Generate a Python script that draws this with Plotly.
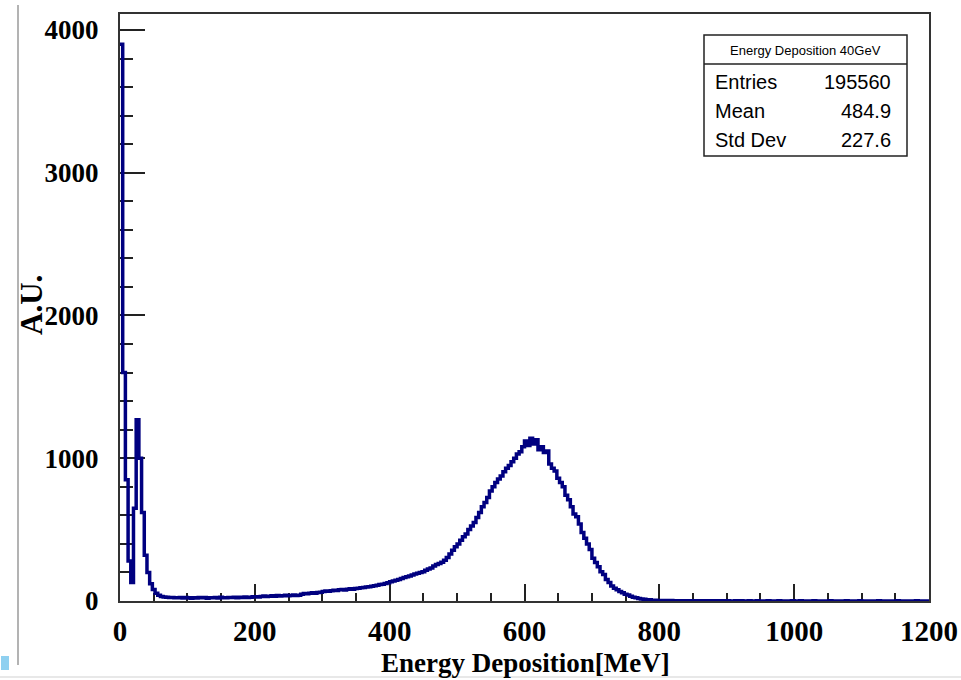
import numpy as np
import plotly.graph_objects as go

# ---------------- data (counts per 4 MeV bin, 0-1200 MeV) ----------------
bin_width_mev = 4
x_min, x_max = 0, 1200
y_max = 4112

counts_low = [3900, 1600, 850, 280, 130, 650, 1270, 1000, 620, 320, 200, 120, 80, 55, 40]
counts_flat = [32, 28, 26, 24, 25, 22, 23, 25, 21, 24, 22, 20, 23, 21, 24, 22, 25, 20, 23, 22,
               24, 21, 26, 23, 22, 25, 24, 27, 23, 26, 25, 28, 24, 27, 29]
counts_tail = [30, 28, 32, 35, 31, 33, 36, 34, 38, 35, 37, 40, 36, 39, 42, 38, 41,
               48, 52, 50, 55, 58, 54, 60, 62, 66, 70, 68, 72, 75, 73, 78, 80, 77, 82, 85, 83,
               88, 90, 93, 95, 98, 100, 104, 107, 110, 115, 118, 122, 128]
counts_rise = [135, 140, 146, 150, 158, 165, 170, 176, 183, 190, 195, 200, 205, 215, 225,
               232, 245, 255, 262, 272, 285, 305, 330, 355, 380,
               400, 425, 450, 470, 500, 525, 550, 585, 620, 660, 690, 725, 770, 800, 830,
               855, 875, 905, 930, 950, 975, 1000, 1030, 1045, 1080]
counts_peak = [1120, 1090, 1140, 1100, 1130, 1060, 1080, 1040, 1050, 960, 930, 910, 860, 830, 800,
               740, 710, 660, 610, 590, 540, 480, 440, 400, 360,
               300, 270, 240, 205, 185, 150, 130, 105, 90, 78, 66, 58, 48, 42, 34,
               26, 22, 18, 14, 12, 9, 8, 6, 5, 4]
counts_high = [4, 3, 3, 2, 3, 2, 2, 1, 2, 1, 2, 1, 1, 2, 1, 1, 0, 1, 1, 0,
               1, 1, 0, 1, 0, 1, 0, 0, 1, 0, 1, 0, 0, 1, 0, 0, 1, 0, 0, 0,
               1, 0, 0, 0, 1, 0, 0, 0, 0, 1, 0, 0, 1, 0, 0, 0, 0, 1, 0, 0,
               0, 0, 0, 1, 0, 0, 0, 0, 0, 1, 0, 0, 0, 0, 1, 0, 0, 0, 0, 0,
               0, 1, 0, 0, 0, 0, 0, 0, 1, 0, 0, 0, 0, 0, 0, 1, 0, 0, 0, 0]

counts = counts_low + counts_flat + counts_tail + counts_rise + counts_peak + counts_high

x_ticks = [0, 200, 400, 600, 800, 1000, 1200]
y_ticks = [0, 1000, 2000, 3000, 4000]

stats_title = "Energy Deposition 40GeV"
stats_names = ["Entries", "Mean", "Std Dev"]
stats_values = ["195560", "484.9", "227.6"]

x_title = "Energy Deposition[MeV]"
y_title = "A.U."

# ---------------- figure ----------------
edges = np.arange(len(counts) + 1) * bin_width_mev
xs = list(edges)
ys = counts + [counts[-1]]

W, H = 961, 680
L, R, T, B = 120, 32, 14, 79
pw, ph = W - L - R, H - T - B


def px(xp):
    return (xp - L) / pw


def py(yp):
    return (H - B - yp) / ph


fig = go.Figure()
fig.add_trace(go.Scatter(x=xs, y=ys, mode="lines", line=dict(color="#000080", width=3.5, shape="hv"),
                         hoverinfo="skip", showlegend=False))

serif = "Liberation Serif"
sans = "Liberation Sans"

fig.update_layout(
    width=W, height=H,
    margin=dict(l=L, r=R, t=T, b=B, pad=0, autoexpand=False),
    paper_bgcolor="white", plot_bgcolor="white",
    showlegend=False,
    xaxis=dict(range=[x_min, x_max], tickvals=x_ticks, ticks="inside", ticklen=17, tickwidth=1.5,
               tickcolor="#222", showline=True, linecolor="#333", linewidth=2, mirror=True,
               showgrid=False, zeroline=False, layer="below traces", automargin=False,
               tickfont=dict(family=serif, size=29, color="black", weight="bold"),
               ticklabelstandoff=3,
               minor=dict(dtick=50, ticklen=8, ticks="inside", tickcolor="#222", tickwidth=1.5)),
    yaxis=dict(range=[0, y_max], tickvals=y_ticks, ticks="inside", ticklen=25, tickwidth=1.5,
               tickcolor="#222", showline=True, linecolor="#333", linewidth=2, mirror=True,
               showgrid=False, zeroline=False, layer="below traces", automargin=False,
               tickfont=dict(family=serif, size=27, color="black", weight="bold"),
               ticklabelstandoff=14,
               minor=dict(dtick=200, ticklen=13, ticks="inside", tickcolor="#222", tickwidth=1.5)),
)

# stats box
bx0, bx1, by0, by1, bsep = 704, 907, 35, 156, 64
fig.add_shape(type="rect", xref="paper", yref="paper", x0=px(bx0), x1=px(bx1), y0=py(by1), y1=py(by0),
              line=dict(color="#222", width=1.5), fillcolor="white", layer="above")
fig.add_shape(type="line", xref="paper", yref="paper", x0=px(bx0), x1=px(bx1), y0=py(bsep), y1=py(bsep),
              line=dict(color="#222", width=1.5), layer="above")
fig.add_annotation(xref="paper", yref="paper", x=px((bx0 + bx1) / 2), y=py(50), text=stats_title,
                   showarrow=False, xanchor="center", yanchor="middle",
                   font=dict(family=sans, size=13, color="black"))
row_y = [82, 111, 140]
for name, val, ry in zip(stats_names, stats_values, row_y):
    fig.add_annotation(xref="paper", yref="paper", x=px(713), y=py(ry), text=name, showarrow=False,
                       xanchor="left", yanchor="middle", font=dict(family=sans, size=20, color="black"))
    fig.add_annotation(xref="paper", yref="paper", x=px(893), y=py(ry), text=val, showarrow=False,
                       xanchor="right", yanchor="middle", font=dict(family=sans, size=20, color="black"))

# axis titles
fig.add_annotation(xref="paper", yref="paper", x=px(525), y=py(663), text=x_title, showarrow=False,
                   xanchor="center", yanchor="middle",
                   font=dict(family=serif, size=27, color="black", weight="bold"))
fig.add_annotation(xref="paper", yref="paper", x=px(31), y=py(305), text=y_title, showarrow=False,
                   textangle=-90, xanchor="center", yanchor="middle",
                   font=dict(family=serif, size=31, color="black", weight="bold"))

# screenshot border artefacts
fig.add_shape(type="line", xref="paper", yref="paper", x0=px(18), x1=px(18), y0=py(665), y1=py(5),
              line=dict(color="#9a9a9a", width=1.5))
fig.add_shape(type="line", xref="paper", yref="paper", x0=px(0), x1=px(961), y0=py(677), y1=py(677),
              line=dict(color="#e0e0e0", width=1.5))
fig.add_shape(type="rect", xref="paper", yref="paper", x0=px(1), x1=px(9), y0=py(670), y1=py(656),
              line=dict(width=0), fillcolor="#8fd0f0")

fig.write_html("out.html")
